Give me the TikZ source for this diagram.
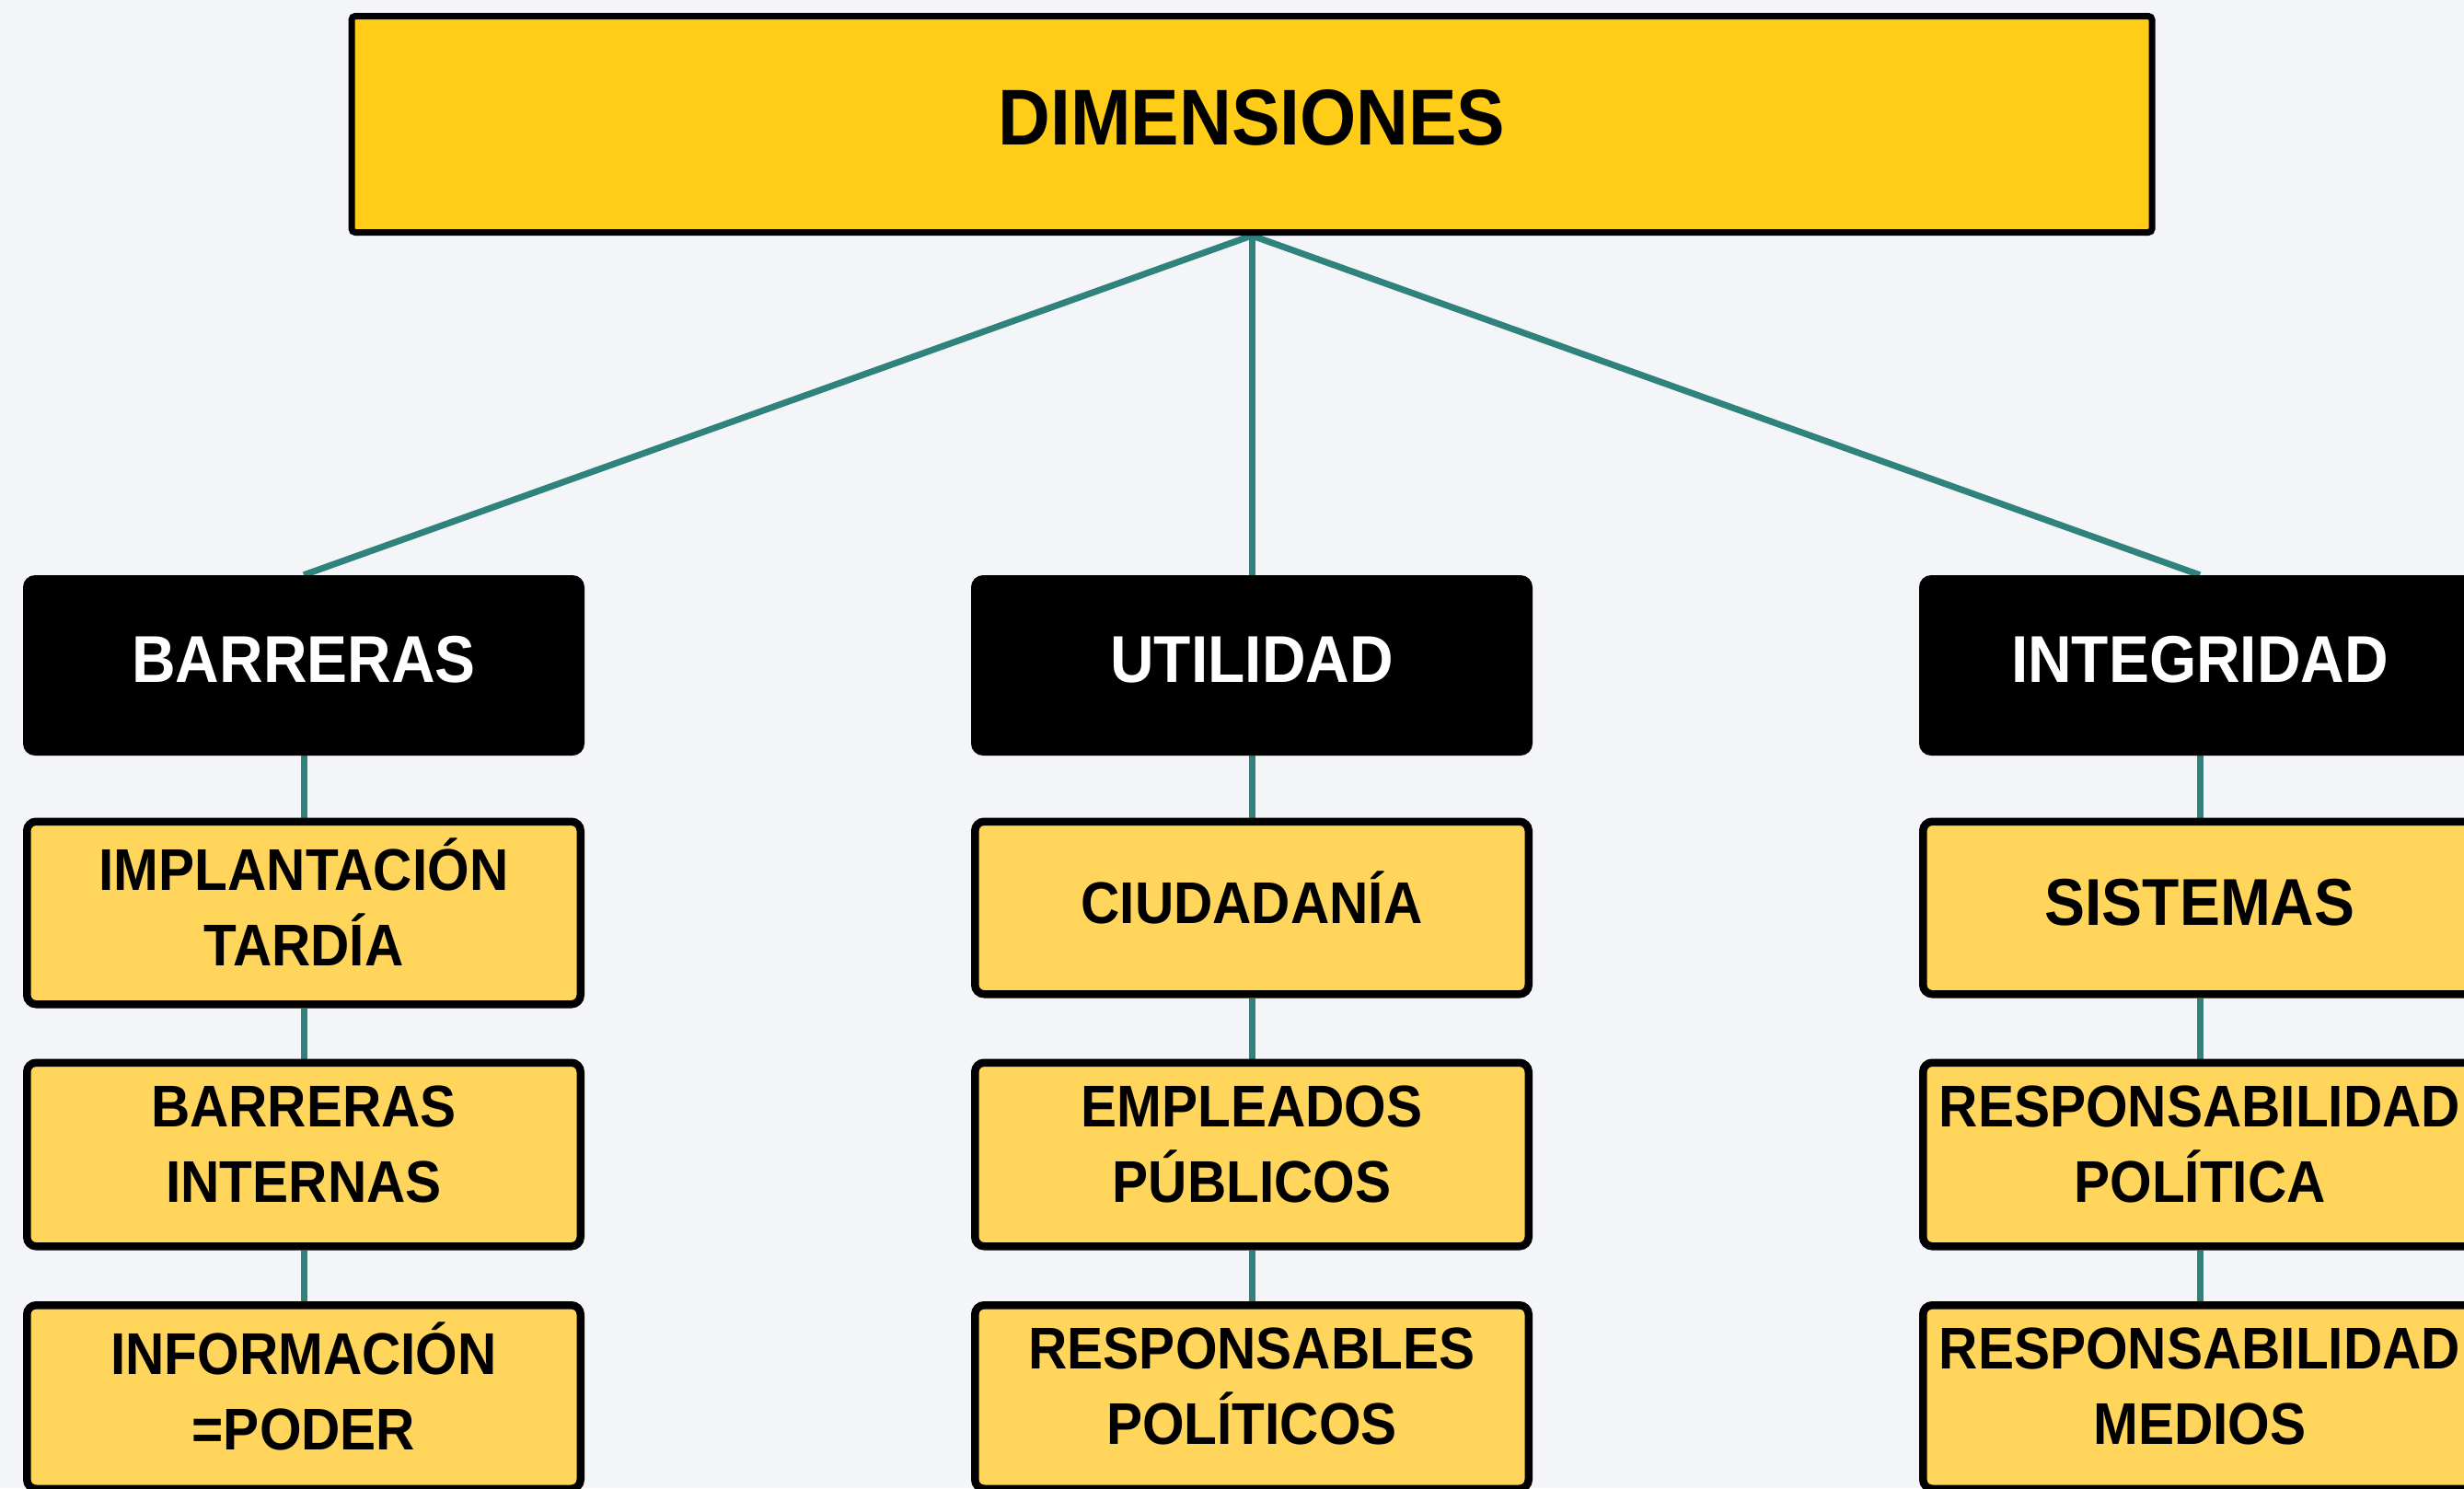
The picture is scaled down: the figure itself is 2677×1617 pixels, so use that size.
\documentclass[tikz,border=0pt]{standalone}
\usepackage{fontspec}
\newfontfamily\dfont{Liberation Sans}[FakeStretch=0.915]
\usetikzlibrary{backgrounds}
\definecolor{bgc}{HTML}{F3F5F9}
\definecolor{topc}{HTML}{FFCC17}
\definecolor{boxc}{HTML}{FFD55C}
\definecolor{linkc}{HTML}{30827C}
\tikzset{
  basebox/.style={inner sep=0pt, align=center,
    execute at begin node={\vphantom{Ó}},
    execute at end node={\rule[-0.37em]{0pt}{0pt}}},
  topbox/.style={basebox, draw=black, line width=7pt, fill=topc, rounded corners=4pt,
    minimum width=1956pt, minimum height=235pt,
    font=\dfont\bfseries\fontsize{86}{110}\selectfont},
  headbox/.style={basebox, fill=black, text=white, rounded corners=13pt,
    minimum width=610pt, minimum height=196pt,
    font=\dfont\bfseries\fontsize{72}{90}\selectfont},
  itembox/.style={basebox, draw=black, line width=8.5pt, fill=boxc, rounded corners=10pt,
    minimum width=601.5pt, minimum height=199.5pt,
    font=\dfont\bfseries\fontsize{64}{82}\selectfont},
  bigitem/.style={itembox, font=\dfont\bfseries\fontsize{72}{90}\selectfont},
  link/.style={draw=linkc, line width=7pt}
}
\begin{document}
\begin{tikzpicture}[x=1pt,y=-1pt]
\useasboundingbox (0,0) rectangle (2677,1617);

\node[topbox] (top) at (1360,135) {DIMENSIONES};

\node[headbox] (h1) at (330,723) {BARRERAS};
\node[headbox] (h2) at (1360,723) {UTILIDAD};
\node[headbox] (h3) at (2390,723) {INTEGRIDAD};

\node[itembox, minimum height=198.5pt] (a1) at (330,992) {IMPLANTACIÓN\\TARDÍA};
\node[itembox] (a2) at (330,1254.5) {BARRERAS\\INTERNAS};
\node[itembox] (a3) at (330,1518) {INFORMACIÓN\\=PODER};

\node[itembox, minimum height=187.5pt] (b1) at (1360,986.5) {CIUDADANÍA};
\node[itembox] (b2) at (1360,1254.5) {EMPLEADOS\\PÚBLICOS};
\node[itembox] (b3) at (1360,1518) {RESPONSABLES\\POLÍTICOS};

\node[bigitem, minimum height=187.5pt] (c1) at (2390,986.5) {SISTEMAS};
\node[itembox] (c2) at (2390,1254.5) {RESPONSABILIDAD\\POLÍTICA};
\node[itembox] (c3) at (2390,1518) {RESPONSABILIDAD\\MEDIOS};

\begin{scope}[on background layer]
  \fill[bgc] (0,0) rectangle (2677,1617);
  \draw[link] (top.south) -- (h1.north);
  \draw[link] (top.south) -- (h2.north);
  \draw[link] (top.south) -- (h3.north);
  \draw[link] (h1.south) -- (a1.north);
  \draw[link] (a1.south) -- (a2.north);
  \draw[link] (a2.south) -- (a3.north);
  \draw[link] (h2.south) -- (b1.north);
  \draw[link] (b1.south) -- (b2.north);
  \draw[link] (b2.south) -- (b3.north);
  \draw[link] (h3.south) -- (c1.north);
  \draw[link] (c1.south) -- (c2.north);
  \draw[link] (c2.south) -- (c3.north);
\end{scope}
\end{tikzpicture}
\end{document}
